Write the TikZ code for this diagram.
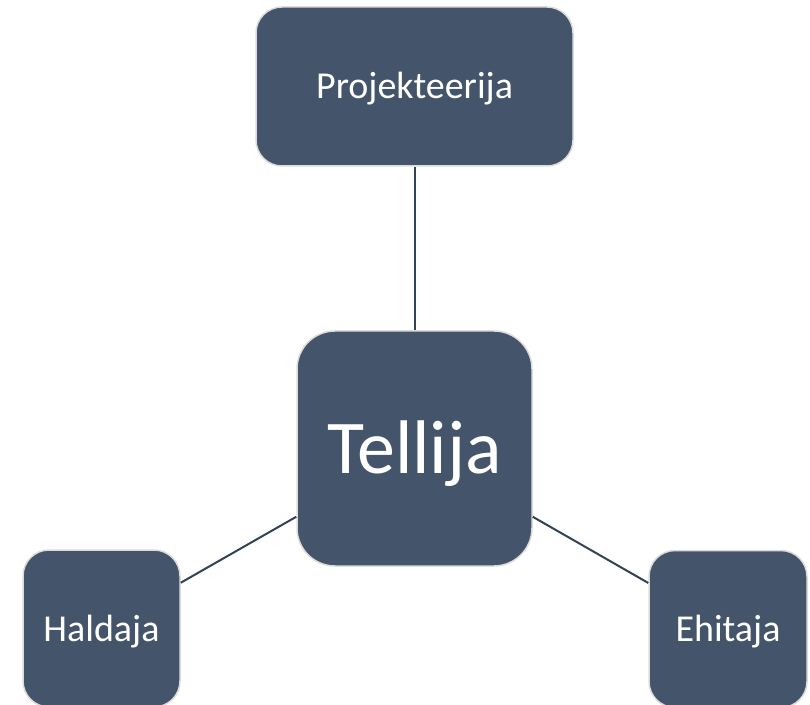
\documentclass[tikz,border=0pt]{standalone}
\usepackage{fontspec}
\setmainfont{Carlito}
\definecolor{boxfill}{HTML}{44546A}
\definecolor{boxedge}{HTML}{DCDCDC}
\definecolor{linkcol}{HTML}{344256}
\tikzset{
  unitbox/.style={draw=boxedge, line width=1.5pt, fill=boxfill, text=white,
    inner sep=0pt, align=center},
  link/.style={draw=linkcol, line width=2pt}
}
\begin{document}
\begin{tikzpicture}[x=1pt,y=1pt]
\useasboundingbox (0,0) rectangle (810,704);
\node[unitbox, minimum width=317pt, minimum height=159pt, rounded corners=26pt,
  font=\fontsize{38}{40}\selectfont, text height=25pt, text depth=0pt]
  (proj) at (414.5,617.5) {Projekteerija};
\node[unitbox, minimum width=235pt, minimum height=235pt, rounded corners=38pt,
  font=\fontsize{76}{80}\selectfont, text height=50pt, text depth=0pt]
  (tell) at (414.5,255.5) {Tellija};
\node[unitbox, minimum width=157pt, minimum height=157pt, rounded corners=26pt,
  font=\fontsize{38}{40}\selectfont, text height=25pt, text depth=0pt]
  (hald) at (101.5,75.5) {Haldaja};
\node[unitbox, minimum width=158pt, minimum height=157pt, rounded corners=26pt,
  font=\fontsize{38}{40}\selectfont, text height=25pt, text depth=0pt]
  (ehit) at (728,75) {Ehitaja};
\draw[link] (proj.south) -- (tell.north);
\draw[link] (tell.210) -- (hald.30);
\draw[link] (tell.-30) -- (ehit.150);
\end{tikzpicture}
\end{document}
